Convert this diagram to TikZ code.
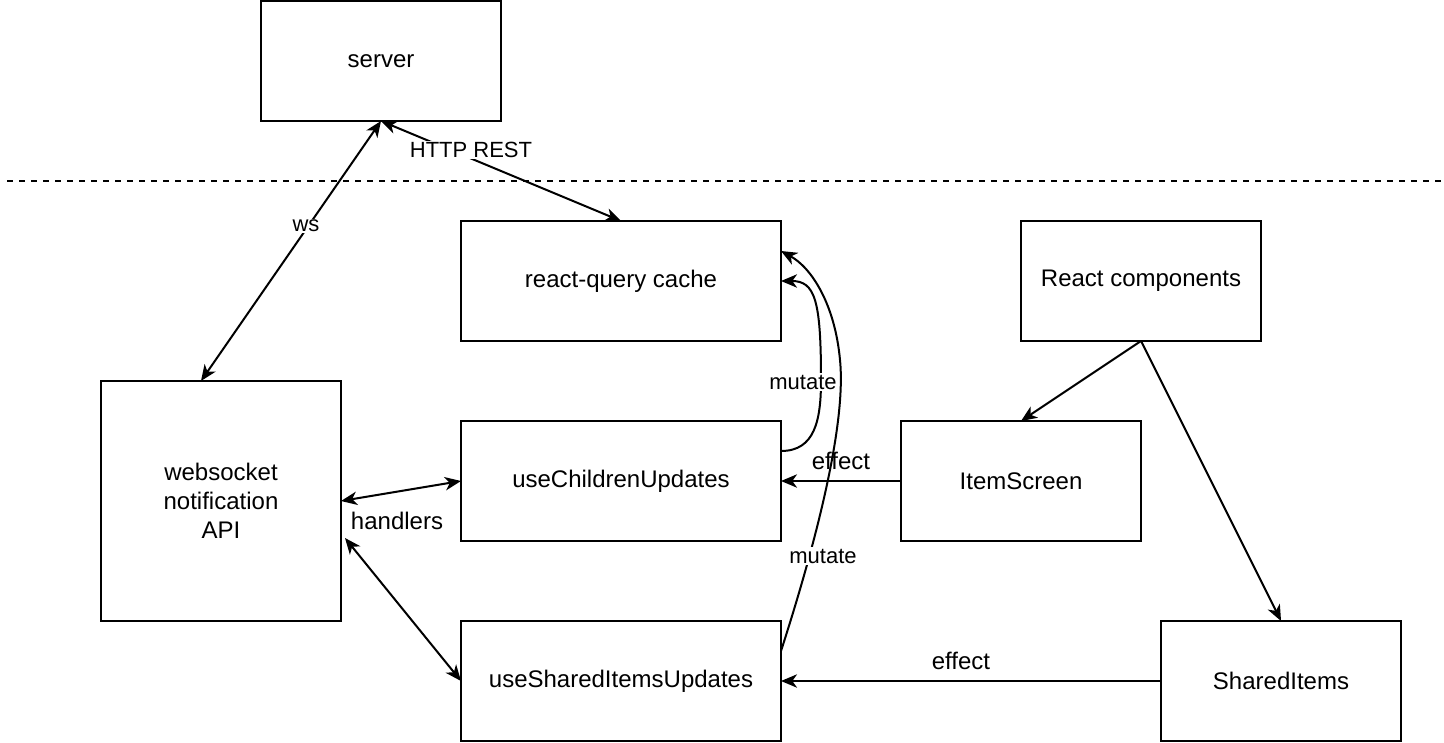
\documentclass[tikz,border=0pt]{standalone}
\usepackage{fontspec}
\setmainfont{Liberation Sans}
\usetikzlibrary{arrows.meta}
\begin{document}
\begin{tikzpicture}[x=0.75pt,y=-0.75pt,
  tip/.tip={Stealth[length=12pt,width=10pt,inset=3.5pt]},
  box/.style={draw,line width=1.5pt,minimum width=180pt,minimum height=90pt,inner sep=0pt,font=\fontsize{18}{21.75}\selectfont,align=center},
  wide/.style={box,minimum width=240pt},
  conn/.style={line width=1.5pt,-tip},
  bconn/.style={line width=1.5pt,tip-tip},
  elab/.style={fill=white,inner sep=1pt,font=\fontsize{16.5}{20}\selectfont},
  tlab/.style={inner sep=1pt,font=\fontsize{18}{21}\selectfont}]
\useasboundingbox (0,0) rectangle (1444,742);
\node[box] (server) at (381,61) {server};
\node[wide] (cache) at (621,281) {react-query cache};
\node[box] (rc) at (1141,281) {React components};
\node[box,minimum height=180pt] (ws) at (221,501) {websocket\\notification\\API};
\node[wide] (child) at (621,481) {useChildrenUpdates};
\node[box] (item) at (1021,481) {ItemScreen};
\node[wide] (shu) at (621,681) {useSharedItemsUpdates};
\node[box] (si) at (1281,681) {SharedItems};
\draw[dash pattern=on 4.5pt off 4.5pt,line width=1.5pt] (7,181) -- (1441,181);
\coordinate (sb) at (381,121);
\coordinate (wst) at (201,381);
\coordinate (ct) at (621,221);
\coordinate (wsr) at (341,501);
\coordinate (wsr2) at (345,538);
\coordinate (chw) at (461,481);
\coordinate (shw) at (461,681);
\coordinate (che) at (781,481);
\coordinate (she) at (781,681);
\coordinate (itw) at (901,481);
\coordinate (siw) at (1161,681);
\coordinate (rcs) at (1141,341);
\coordinate (itn) at (1021,421);
\coordinate (sin) at (1281,621);
\draw[bconn] (wst) -- (sb);
\draw[bconn] (sb) -- (ct);
\node[elab] at (306,226) {ws};
\node[elab] at (471,150) {HTTP REST};
\draw[bconn] (wsr) -- (chw);
\draw[bconn] (wsr2) -- (shw);
\node[tlab] at (397,521) {handlers};
\draw[conn] (itw) -- (che);
\node[tlab] at (841,461) {effect};
\draw[conn] (siw) -- (she);
\node[tlab] at (961,661) {effect};
\draw[conn] (rcs) -- (itn);
\draw[conn] (rcs) -- (sin);
\coordinate (c1s) at (781,451);
\coordinate (c1e) at (781,281);
\draw[conn] (c1s) .. controls (815,451) and (821,420) .. (821,380) .. controls (821,300) and (815,281) .. (c1e);
\node[elab] at (803,382) {mutate};
\coordinate (c2s) at (781,651);
\coordinate (c2e) at (781,251);
\draw[conn] (c2s) .. controls (820,530) and (846,420) .. (840,360) .. controls (835,305) and (812,268) .. (c2e);
\node[elab] at (823,556) {mutate};
\end{tikzpicture}
\end{document}
